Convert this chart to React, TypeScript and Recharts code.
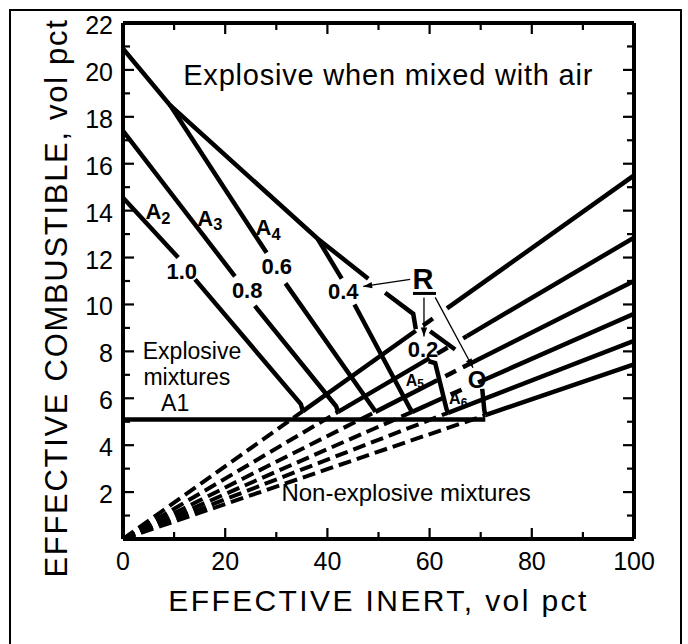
import React from 'react';
import { ComposedChart, Line, XAxis, YAxis, ReferenceDot } from 'recharts';

type Pt = { x: number; y: number };

const FONT = '"Liberation Sans", Arial, Helvetica, sans-serif';

// ---- axis ticks ----
const xTicks = [0, 10, 20, 30, 40, 50, 60, 70, 80, 90, 100];
const xLabels = [0, 20, 40, 60, 80, 100];
const yTicks = [0, 1, 2, 3, 4, 5, 6, 7, 8, 9, 10, 11, 12, 13, 14, 15, 16, 17, 18, 19, 20, 21, 22];
const yLabels = [2, 4, 6, 8, 10, 12, 14, 16, 18, 20, 22];

// ---- lower limit (horizontal) ----
const lowerLimit: Pt[] = [{ x: 0, y: 5.1 }, { x: 70.9, y: 5.1 }];

// ---- upper boundary (explosive when mixed with air) ----
const upperA: Pt[] = [{ x: 0, y: 20.9 }, { x: 9.2, y: 18.5 }, { x: 38.1, y: 12.8 }, { x: 48, y: 11.1 }];
const upperB: Pt[] = [{ x: 51.3, y: 10.5 }, { x: 56.8, y: 9.6 }, { x: 57.3, y: 8.95 }];
const upperC: Pt[] = [{ x: 60.1, y: 8.86 }, { x: 65, y: 8.08 }];

// ---- R lines ----
const r10Upper: Pt[] = [{ x: 0, y: 14.55 }, { x: 10.8, y: 12.0 }];
const r10Lower: Pt[] = [{ x: 14.1, y: 11.07 }, { x: 34.8, y: 5.75 }, { x: 35.2, y: 5.45 }];
const r08Upper: Pt[] = [{ x: 0, y: 17.4 }, { x: 21.9, y: 11.2 }];
const r08Lower: Pt[] = [{ x: 25.8, y: 9.94 }, { x: 41.7, y: 5.66 }, { x: 42.1, y: 5.42 }];
const r06Upper: Pt[] = [{ x: 9.2, y: 18.5 }, { x: 28.1, y: 12.2 }];
const r06Lower: Pt[] = [{ x: 31.8, y: 10.9 }, { x: 49, y: 5.57 }, { x: 49.4, y: 5.42 }];
const r04Upper: Pt[] = [{ x: 38.1, y: 12.8 }, { x: 42.8, y: 11.1 }];
const r04Lower: Pt[] = [{ x: 45.3, y: 10.0 }, { x: 56.2, y: 5.55 }, { x: 56.6, y: 5.42 }];
const r02Line: Pt[] = [{ x: 59.8, y: 7.58 }, { x: 61.1, y: 7.5 }, { x: 63.3, y: 5.55 }, { x: 63.6, y: 5.38 }];
const r00Line: Pt[] = [{ x: 70.3, y: 6.4 }, { x: 70.7, y: 5.5 }, { x: 70.9, y: 5.28 }];

// ---- rays from origin (dashed below the limit, solid above, with short broken stretches) ----
const ray1Dash: Pt[] = [{ x: 0, y: 0 }, { x: 35.2, y: 5.45 }];
const ray1SolidA: Pt[] = [{ x: 35.2, y: 5.45 }, { x: 57.3, y: 8.88 }];
const ray1Gap: Pt[] = [{ x: 57.3, y: 8.88 }, { x: 63.4, y: 9.83 }];
const ray1SolidB: Pt[] = [{ x: 63.4, y: 9.83 }, { x: 100, y: 15.5 }];

const ray2Dash: Pt[] = [{ x: 0, y: 0 }, { x: 42.1, y: 5.42 }];
const ray2SolidA: Pt[] = [{ x: 42.1, y: 5.42 }, { x: 60.0, y: 7.71 }];
const ray2Gap: Pt[] = [{ x: 60.0, y: 7.71 }, { x: 67.3, y: 8.65 }];
const ray2SolidB: Pt[] = [{ x: 67.3, y: 8.65 }, { x: 100, y: 12.85 }];

const ray3Dash: Pt[] = [{ x: 0, y: 0 }, { x: 49.4, y: 5.42 }];
const ray3SolidA: Pt[] = [{ x: 49.4, y: 5.42 }, { x: 61.5, y: 6.77 }];
const ray3Gap: Pt[] = [{ x: 61.5, y: 6.77 }, { x: 66.5, y: 7.32 }];
const ray3SolidB: Pt[] = [{ x: 66.5, y: 7.32 }, { x: 100, y: 11.0 }];

const ray4Dash: Pt[] = [{ x: 0, y: 0 }, { x: 56.6, y: 5.42 }];
const ray4SolidA: Pt[] = [{ x: 56.6, y: 5.42 }, { x: 62.5, y: 6.0 }];
const ray4Gap: Pt[] = [{ x: 62.5, y: 6.0 }, { x: 70.5, y: 6.77 }];
const ray4SolidB: Pt[] = [{ x: 70.5, y: 6.77 }, { x: 100, y: 9.6 }];

const ray5Dash: Pt[] = [{ x: 0, y: 0 }, { x: 63.6, y: 5.38 }];
const ray5Solid: Pt[] = [{ x: 63.6, y: 5.38 }, { x: 100, y: 8.45 }];
const ray6Dash: Pt[] = [{ x: 0, y: 0 }, { x: 70.9, y: 5.28 }];
const ray6Solid: Pt[] = [{ x: 70.9, y: 5.28 }, { x: 100, y: 7.45 }];

// ---- R pointer arrows ----
const arrowTo04: Pt[] = [{ x: 56.2, y: 11.07 }, { x: 47.0, y: 10.77 }];
const arrowDown: Pt[] = [{ x: 58.9, y: 10.3 }, { x: 58.9, y: 8.63 }];
const arrowToO: Pt[] = [{ x: 61.1, y: 10.3 }, { x: 68.5, y: 7.3 }];
const rUnderline: Pt[] = [{ x: 56.75, y: 10.47 }, { x: 61.25, y: 10.47 }];

// ---- text annotations ----
const plainLabels = [
  { x: 51.9, y: 19.8, text: 'Explosive when mixed with air', size: 29, weight: 400, ls: 0.8 },
  { x: 13.5, y: 8.0, text: 'Explosive', size: 23, weight: 400, ls: 0 },
  { x: 12.5, y: 6.9, text: 'mixtures', size: 23, weight: 400, ls: 0 },
  { x: 10.2, y: 5.8, text: 'A1', size: 23, weight: 400, ls: 0 },
  { x: 55.4, y: 2.0, text: 'Non-explosive mixtures', size: 24, weight: 400, ls: 0 },
  { x: 11.5, y: 11.4, text: '1.0', size: 22, weight: 700, ls: 0 },
  { x: 24.3, y: 10.6, text: '0.8', size: 22, weight: 700, ls: 0 },
  { x: 30.1, y: 11.6, text: '0.6', size: 22, weight: 700, ls: 0 },
  { x: 43.1, y: 10.55, text: '0.4', size: 22, weight: 700, ls: 0 },
  { x: 58.7, y: 8.08, text: '0.2', size: 22, weight: 700, ls: 0 },
  { x: 58.7, y: 11.1, text: 'R', size: 29, weight: 700, ls: 0 },
  { x: 69.3, y: 6.8, text: 'O', size: 24, weight: 700, ls: 0 },
];
const subLabels = [
  { x: 6.85, y: 13.97, base: 'A', sub: '2', size: 22 },
  { x: 17.0, y: 13.7, base: 'A', sub: '3', size: 22 },
  { x: 28.4, y: 13.3, base: 'A', sub: '4', size: 22 },
  { x: 57.1, y: 6.8, base: 'A', sub: '5', size: 16 },
  { x: 65.6, y: 6.0, base: 'A', sub: '6', size: 16 },
];

const solidSegments: Pt[][] = [
  lowerLimit, upperA, upperB, upperC,
  r10Upper, r10Lower, r08Upper, r08Lower, r06Upper, r06Lower, r04Upper, r04Lower, r02Line, r00Line,
  ray1SolidA, ray1SolidB, ray2SolidA, ray2SolidB, ray3SolidA, ray3SolidB, ray4SolidA, ray4SolidB,
  ray5Solid, ray6Solid,
];
const dashedSegments: Pt[][] = [ray1Dash, ray2Dash, ray3Dash, ray4Dash, ray5Dash, ray6Dash];
const gapSegments: Pt[][] = [ray1Gap, ray2Gap, ray3Gap, ray4Gap];
const arrowSegments: Pt[][] = [arrowTo04, arrowDown, arrowToO];

function makeArrowDot() {
  let prev: { x: number; y: number } | null = null;
  return (p: any) => {
    const { cx, cy, index } = p;
    if (index === 0 || !prev) {
      prev = { x: cx, y: cy };
      return <g key={`a${index}`} />;
    }
    const a = Math.atan2(cy - prev.y, cx - prev.x);
    const L = 9;
    const W = 3.2;
    const bx = cx - L * Math.cos(a);
    const by = cy - L * Math.sin(a);
    const pts = `${cx},${cy} ${bx + W * Math.sin(a)},${by - W * Math.cos(a)} ${bx - W * Math.sin(a)},${by + W * Math.cos(a)}`;
    return <polygon key={`a${index}`} points={pts} fill="#000" />;
  };
}

const BottomTick = (props: any) => {
  const { x, y, payload } = props;
  const major = xLabels.includes(payload.value);
  return (
    <g>
      <line x1={x} x2={x} y1={y} y2={y - (major ? 11 : 7)} stroke="#000" strokeWidth={2.2} />
      {major && (
        <text x={x} y={y + 22} textAnchor="middle" dominantBaseline="central" fontSize={25} fontFamily={FONT} fill="#000">
          {payload.value}
        </text>
      )}
    </g>
  );
};
const TopTick = (props: any) => {
  const { x, y, payload } = props;
  const major = xLabels.includes(payload.value);
  return <line x1={x} x2={x} y1={y} y2={y + (major ? 11 : 7)} stroke="#000" strokeWidth={2.2} />;
};
const LeftTick = (props: any) => {
  const { x, y, payload } = props;
  const major = yLabels.includes(payload.value) || payload.value === 0;
  return (
    <g>
      <line x1={x} x2={x + (major ? 11 : 7)} y1={y} y2={y} stroke="#000" strokeWidth={2.2} />
      {yLabels.includes(payload.value) && (
        <text x={x - 10} y={y + 2} textAnchor="end" dominantBaseline="central" fontSize={25} fontFamily={FONT} fill="#000">
          {payload.value}
        </text>
      )}
    </g>
  );
};
const RightTick = (props: any) => {
  const { x, y, payload } = props;
  const major = yLabels.includes(payload.value);
  return <line x1={x} x2={x - (major ? 11 : 7)} y1={y} y2={y} stroke="#000" strokeWidth={2.2} />;
};

const XTitle = (props: any) => {
  const vb = props.viewBox || { x: 0, y: 0, width: 0, height: 0 };
  return (
    <text x={vb.x + vb.width / 2} y={vb.y + 61} textAnchor="middle" dominantBaseline="central" fontSize={30} letterSpacing={2.4} fontFamily={FONT} fill="#000">
      EFFECTIVE INERT, vol pct
    </text>
  );
};
const YTitle = (props: any) => {
  const vb = props.viewBox || { x: 0, y: 0, width: 0, height: 0 };
  const cx = vb.x + vb.width - 67;
  const cy = vb.y + vb.height / 2 + 17;
  return (
    <text x={cx} y={cy} transform={`rotate(-90 ${cx} ${cy})`} textAnchor="middle" dominantBaseline="central" fontSize={31} letterSpacing={1.7} fontFamily={FONT} fill="#000">
      EFFECTIVE COMBUSTIBLE, vol pct
    </text>
  );
};

const lineProps = {
  dataKey: 'y',
  type: 'linear' as const,
  stroke: '#000',
  dot: false,
  activeDot: false,
  legendType: 'none' as const,
  isAnimationActive: false,
};

export default function App() {
  return (
    <div style={{ position: 'relative', width: 672, height: 628 }}>
      <ComposedChart width={672} height={628} margin={{ top: 14, right: 45, bottom: 96, left: 114 }}>
        <XAxis
          dataKey="x"
          type="number"
          domain={[0, 100]}
          ticks={xTicks}
          interval={0}
          height={1}
          tickSize={0}
          tickMargin={0}
          tickLine={false}
          axisLine={{ stroke: '#000', strokeWidth: 4 }}
          tick={<BottomTick />}
          label={<XTitle />}
          allowDataOverflow
        />
        <XAxis
          xAxisId="top"
          orientation="top"
          dataKey="x"
          type="number"
          domain={[0, 100]}
          ticks={xTicks}
          interval={0}
          height={1}
          tickSize={0}
          tickMargin={0}
          tickLine={false}
          axisLine={{ stroke: '#000', strokeWidth: 4 }}
          tick={<TopTick />}
          allowDataOverflow
        />
        <YAxis
          type="number"
          domain={[0, 22]}
          ticks={yTicks}
          interval={0}
          width={1}
          tickSize={0}
          tickMargin={0}
          tickLine={false}
          axisLine={{ stroke: '#000', strokeWidth: 4 }}
          tick={<LeftTick />}
          label={<YTitle />}
          allowDataOverflow
        />
        <YAxis
          yAxisId="right"
          orientation="right"
          type="number"
          domain={[0, 22]}
          ticks={yTicks}
          interval={0}
          width={1}
          tickSize={0}
          tickMargin={0}
          tickLine={false}
          axisLine={{ stroke: '#000', strokeWidth: 4 }}
          tick={<RightTick />}
          allowDataOverflow
        />
        {dashedSegments.map((d, i) => (
          <Line key={`d${i}`} data={d} {...lineProps} strokeWidth={4} strokeDasharray="13 6" />
        ))}
        {gapSegments.map((d, i) => (
          <Line key={`g${i}`} data={d} {...lineProps} strokeWidth={4.5} strokeDasharray="0 9 12 9" />
        ))}
        {solidSegments.map((d, i) => (
          <Line key={`s${i}`} data={d} {...lineProps} strokeWidth={4.5} />
        ))}
        <Line data={rUnderline} {...lineProps} strokeWidth={3} />
        {arrowSegments.map((d, i) => (
          <Line key={`ar${i}`} data={d} {...lineProps} strokeWidth={1.3} dot={makeArrowDot()} />
        ))}
        {plainLabels.map((l, i) => (
          <ReferenceDot
            key={`pl${i}`}
            x={l.x}
            y={l.y}
            r={0}
            shape={(p: any) => (
              <text
                x={p.cx}
                y={p.cy}
                textAnchor="middle"
                dominantBaseline="central"
                fontSize={l.size}
                fontWeight={l.weight}
                letterSpacing={l.ls}
                fontFamily={FONT}
                fill="#000"
              >
                {l.text}
              </text>
            )}
          />
        ))}
        {subLabels.map((l, i) => (
          <ReferenceDot
            key={`sl${i}`}
            x={l.x}
            y={l.y}
            r={0}
            shape={(p: any) => (
              <text
                x={p.cx}
                y={p.cy}
                textAnchor="middle"
                dominantBaseline="central"
                fontSize={l.size}
                fontWeight={700}
                fontFamily={FONT}
                fill="#000"
              >
                <tspan>{l.base}</tspan>
                <tspan dy={l.size * 0.3} fontSize={l.size * 0.75}>{l.sub}</tspan>
              </text>
            )}
          />
        ))}
      </ComposedChart>
      <div
        style={{
          position: 'fixed',
          left: 9,
          top: 9,
          width: 673,
          height: 645,
          boxSizing: 'border-box',
          border: '2px solid #000',
          pointerEvents: 'none',
        }}
      />
    </div>
  );
}
